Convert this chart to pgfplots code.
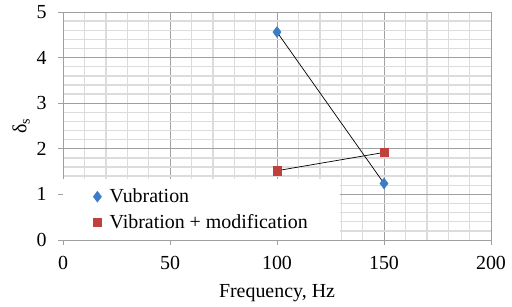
\documentclass[border=0pt]{standalone}
\usepackage{fontspec}
\setmainfont{Liberation Serif}
\usepackage{pgfplots}
\pgfplotsset{compat=1.18}
\definecolor{vblue}{HTML}{3C7CC4}
\definecolor{vred}{HTML}{C0403D}
\definecolor{majg}{HTML}{A0A0A0}
\definecolor{ming}{HTML}{DCDCDC}
\begin{document}
\begin{tikzpicture}[x=1bp,y=1bp]
\path[use as bounding box] (0,0) rectangle (512,306);
\begin{axis}[
  at={(63bp,66bp)}, anchor=south west,
  scale only axis, width=428bp, height=228bp,
  font=\fontsize{20}{24}\selectfont,
  /pgf/number format/assume math mode=true,
  xmin=0, xmax=200, ymin=0, ymax=5,
  xtick={0,50,100,150,200}, ytick={0,1,2,3,4,5},
  minor x tick num=4, minor y tick num=4,
  grid=both,
  major grid style={majg, line width=0.8bp},
  minor grid style={ming, line width=1.4bp},
  axis lines=left,
  axis line style={majg, line width=0.8bp, -},
  tick style={majg, line width=0.8bp},
  major tick length=5bp, minor tick length=0pt,
  tick align=outside,
  xticklabel style={yshift=-8bp},
  yticklabel style={xshift=-8bp},
  xlabel={Frequency, Hz},
  ylabel={δ\textsubscript{s}},
  xlabel style={yshift=-8bp},
  ylabel style={yshift=0bp},
  legend style={at={(0,0)}, anchor=south west, draw=none, fill=white,
    inner xsep=12bp, inner ysep=8bp, row sep=6bp, font=\fontsize{20}{24}\selectfont},
  legend cell align=left,
  legend image code/.code={\draw[#1] plot coordinates {(22bp,0bp)}; \path (0bp,0bp) (32bp,0bp);},
]
\addplot[black, line width=0.7bp, forget plot] coordinates {(100,4.56) (150,1.24)};
\addplot[black, line width=0.7bp, forget plot] coordinates {(100,1.52) (150,1.92)};
\addplot[only marks, mark=diamond*, mark size=5.5bp, mark options={fill=vblue, draw=vblue}] coordinates {(100,4.56) (150,1.24)};
\addlegendentry{Vubration}
\addplot[only marks, mark=square*, mark size=4.2bp, mark options={fill=vred, draw=vred}] coordinates {(100,1.52) (150,1.92)};
\addlegendentry{\makebox[216bp][l]{Vibration + modification}}
\end{axis}
\end{tikzpicture}
\end{document}
